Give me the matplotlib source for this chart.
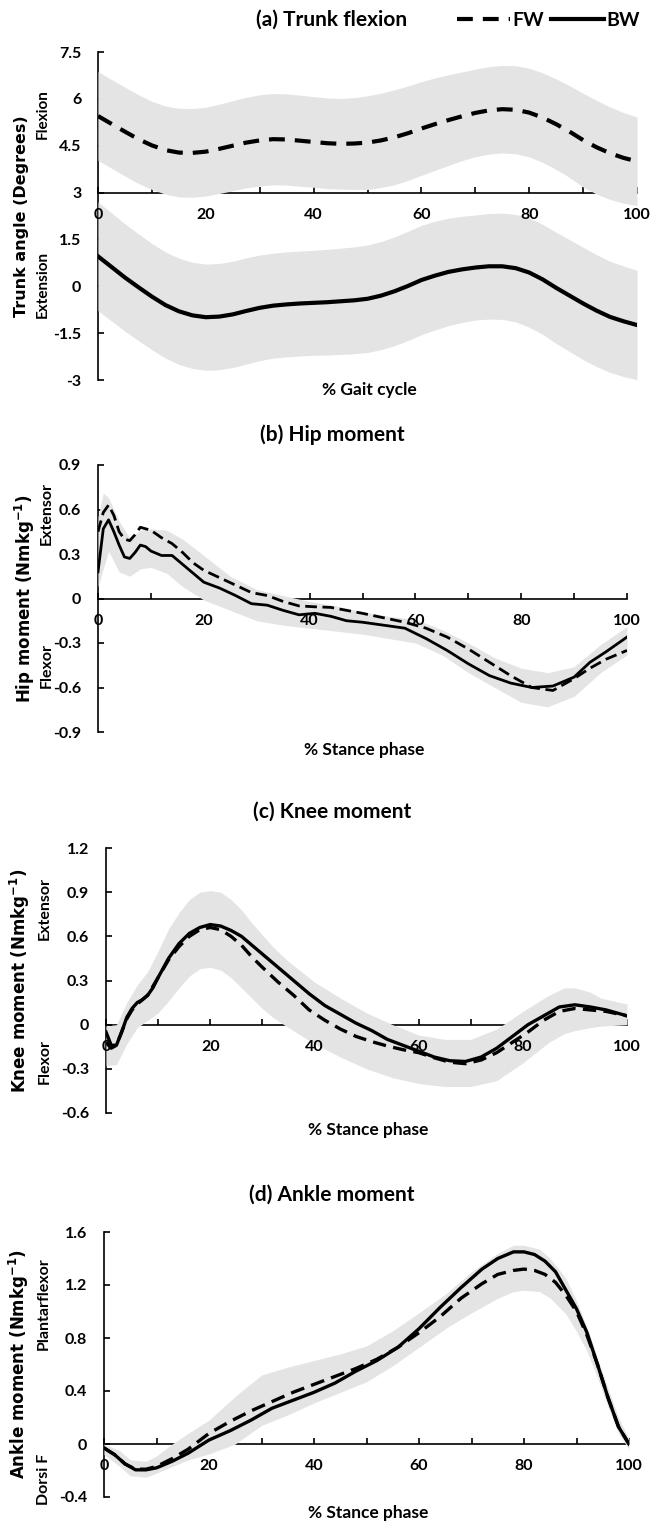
import matplotlib.pyplot as plt
from matplotlib.lines import Line2D

plt.rcParams['font.family'] = ['Lato', 'DejaVu Sans']
plt.rcParams['font.weight'] = 'bold'
plt.rcParams['axes.unicode_minus'] = False
plt.rcParams['mathtext.default'] = 'regular'

# ---------------- (a) Trunk flexion ----------------
trunk_x = [0, 2.5, 5, 7.5, 10, 12.5, 15, 17.5, 20, 22.5, 25, 27.5, 30, 32.5, 35, 37.5, 40, 42.5,
           45, 47.5, 50, 52.5, 55, 57.5, 60, 62.5, 65, 67.5, 70, 72.5, 75, 77.5, 80, 82.5, 85,
           87.5, 90, 92.5, 95, 97.5, 100]
trunk_fw = [5.45, 5.2, 4.95, 4.71, 4.51, 4.36, 4.28, 4.27, 4.31, 4.4, 4.5, 4.6, 4.67, 4.71, 4.7,
            4.66, 4.62, 4.58, 4.56, 4.57, 4.6, 4.67, 4.77, 4.9, 5.05, 5.19, 5.32, 5.44, 5.55,
            5.63, 5.67, 5.65, 5.56, 5.4, 5.19, 4.95, 4.68, 4.45, 4.26, 4.11, 4.0]
trunk_fw_sd = [1.42, 1.42, 1.42, 1.42, 1.41, 1.41, 1.42, 1.42, 1.42, 1.43, 1.44, 1.45, 1.46,
               1.46, 1.46, 1.46, 1.45, 1.45, 1.45, 1.47, 1.5, 1.51, 1.52, 1.51, 1.5, 1.48, 1.45,
               1.42, 1.4, 1.4, 1.4, 1.41, 1.42, 1.43, 1.45, 1.47, 1.5, 1.5, 1.48, 1.45, 1.42]
trunk_bw = [0.96, 0.62, 0.28, -0.03, -0.33, -0.6, -0.8, -0.93, -0.99, -0.97, -0.9, -0.79, -0.69,
            -0.62, -0.58, -0.55, -0.53, -0.51, -0.48, -0.45, -0.4, -0.3, -0.16, 0.01, 0.2, 0.34,
            0.46, 0.54, 0.6, 0.64, 0.64, 0.58, 0.44, 0.22, -0.05, -0.3, -0.55, -0.78, -0.98,
            -1.12, -1.24]
trunk_bw_sd = [1.74, 1.73, 1.72, 1.71, 1.7, 1.7, 1.7, 1.7, 1.7, 1.7, 1.7, 1.7, 1.69, 1.68, 1.68,
               1.68, 1.68, 1.69, 1.7, 1.71, 1.72, 1.73, 1.74, 1.75, 1.75, 1.74, 1.72, 1.7, 1.68,
               1.69, 1.7, 1.72, 1.75, 1.76, 1.78, 1.79, 1.8, 1.79, 1.78, 1.77, 1.75]

# ---------------- (b) Hip moment ----------------
hip_x = [0, 1, 2, 3, 4, 5, 6, 7, 8, 9, 10, 12, 14, 16, 18, 20, 23, 26, 29, 32, 35, 38, 41, 44,
         47, 50, 54, 58, 62, 66, 70, 74, 78, 82, 86, 90, 93, 96, 100]
hip_bw = [0.18, 0.47, 0.53, 0.45, 0.36, 0.28, 0.27, 0.31, 0.36, 0.35, 0.32, 0.29, 0.29, 0.23,
          0.17, 0.11, 0.07, 0.02, -0.035, -0.045, -0.08, -0.11, -0.1, -0.12, -0.15, -0.16,
          -0.18, -0.2, -0.27, -0.35, -0.44, -0.52, -0.57, -0.6, -0.59, -0.53, -0.43, -0.36, -0.26]
hip_fw = [0.45, 0.58, 0.63, 0.56, 0.45, 0.4, 0.39, 0.43, 0.48, 0.47, 0.46, 0.41, 0.37, 0.31,
          0.24, 0.19, 0.14, 0.09, 0.04, 0.02, -0.02, -0.05, -0.056, -0.06, -0.08, -0.1,
          -0.13, -0.16, -0.2, -0.26, -0.34, -0.43, -0.52, -0.6, -0.62, -0.54, -0.47, -0.41, -0.35]
hip_band_x = [0, 1, 2, 4, 6, 8, 10, 13, 16, 20, 25, 30, 35, 40, 45, 50, 55, 60, 65, 70, 75, 80,
              85, 90, 95, 100]
hip_band_hi = [0.55, 0.71, 0.68, 0.52, 0.41, 0.46, 0.47, 0.46, 0.4, 0.29, 0.15, 0.06, 0.02,
               -0.02, -0.05, -0.09, -0.12, -0.14, -0.21, -0.3, -0.4, -0.47, -0.5, -0.46, -0.31, -0.19]
hip_band_lo = [0.08, 0.2, 0.32, 0.18, 0.15, 0.2, 0.21, 0.17, 0.08, -0.01, -0.08, -0.15, -0.18,
               -0.2, -0.22, -0.24, -0.27, -0.3, -0.38, -0.5, -0.6, -0.7, -0.73, -0.66, -0.5, -0.38]

# ---------------- (c) Knee moment ----------------
knee_x = [0, 1, 2, 3, 4, 5, 6, 7, 8, 9, 10, 12, 14, 16, 18, 20, 22, 24, 26, 28, 30, 33, 36, 39,
          42, 45, 48, 51, 54, 57, 60, 63, 66, 69, 72, 75, 78, 81, 84, 87, 90, 93, 96, 100]
knee_bw = [-0.05, -0.14, -0.14, -0.05, 0.05, 0.11, 0.15, 0.17, 0.2, 0.25, 0.32, 0.45, 0.55,
           0.62, 0.66, 0.68, 0.67, 0.64, 0.6, 0.54, 0.48, 0.39, 0.3, 0.21, 0.13, 0.07, 0.01,
           -0.04, -0.1, -0.14, -0.18, -0.22, -0.245, -0.25, -0.22, -0.16, -0.08, 0.0, 0.06,
           0.12, 0.135, 0.12, 0.1, 0.06]
knee_fw = [-0.12, -0.16, -0.14, -0.05, 0.04, 0.1, 0.14, 0.17, 0.2, 0.26, 0.32, 0.44, 0.53, 0.6,
           0.645, 0.66, 0.645, 0.6, 0.54, 0.46, 0.39, 0.29, 0.2, 0.1, 0.03, -0.03, -0.08,
           -0.115, -0.145, -0.17, -0.19, -0.225, -0.255, -0.265, -0.24, -0.19, -0.12, -0.05,
           0.03, 0.09, 0.11, 0.1, 0.09, 0.06]
knee_band_x = [0, 2, 4, 6, 8, 10, 12, 14, 16, 18, 20, 22, 24, 26, 28, 30, 32, 35, 40, 45, 50,
               55, 60, 65, 70, 75, 80, 85, 88, 90, 93, 95, 100]
knee_band_hi = [-0.01, 0.0, 0.15, 0.27, 0.36, 0.5, 0.65, 0.76, 0.85, 0.9, 0.91, 0.9, 0.85, 0.78,
                0.69, 0.61, 0.53, 0.43, 0.29, 0.18, 0.08, 0.0, -0.07, -0.1, -0.1, -0.03, 0.09,
                0.2, 0.25, 0.25, 0.22, 0.18, 0.14]
knee_band_lo = [-0.28, -0.27, -0.13, -0.02, 0.03, 0.08, 0.16, 0.25, 0.33, 0.38, 0.39, 0.37,
                0.32, 0.25, 0.18, 0.11, 0.05, -0.02, -0.13, -0.22, -0.3, -0.36, -0.4, -0.42,
                -0.42, -0.38, -0.26, -0.12, -0.06, -0.04, -0.02, -0.01, 0.0]

# ---------------- (d) Ankle moment ----------------
ankle_x = [0, 2, 4, 6, 8, 10, 13, 16, 20, 24, 28, 32, 36, 40, 44, 48, 52, 56, 60, 64, 68, 72,
           75, 78, 80, 82, 84, 86, 88, 90, 92, 94, 96, 98, 100]
ankle_bw = [-0.03, -0.08, -0.15, -0.195, -0.195, -0.18, -0.13, -0.07, 0.03, 0.1, 0.18, 0.27,
            0.33, 0.39, 0.46, 0.55, 0.63, 0.73, 0.87, 1.03, 1.18, 1.32, 1.4, 1.45, 1.45, 1.43,
            1.38, 1.3, 1.16, 1.02, 0.84, 0.6, 0.35, 0.13, 0.0]
ankle_fw = [-0.03, -0.08, -0.15, -0.19, -0.19, -0.17, -0.11, -0.04, 0.08, 0.17, 0.25, 0.32,
            0.39, 0.45, 0.51, 0.57, 0.64, 0.73, 0.84, 0.96, 1.1, 1.21, 1.28, 1.31, 1.32, 1.31,
            1.28, 1.22, 1.12, 1.0, 0.82, 0.6, 0.35, 0.13, 0.0]
ankle_band_x = [0, 3, 5, 8, 10, 13, 16, 20, 25, 30, 35, 40, 45, 50, 55, 60, 65, 70, 75, 78, 80,
                83, 85, 88, 90, 92, 94, 96, 98, 100]
ankle_band_hi = [0.0, -0.05, -0.12, -0.13, -0.09, 0.0, 0.08, 0.18, 0.36, 0.52, 0.58, 0.63,
                 0.68, 0.74, 0.855, 0.99, 1.13, 1.3, 1.44, 1.5, 1.5, 1.47, 1.4, 1.25, 1.08, 0.88,
                 0.65, 0.42, 0.2, 0.04]
ankle_band_lo = [-0.08, -0.17, -0.24, -0.25, -0.22, -0.17, -0.12, -0.075, 0.0, 0.14, 0.22,
                 0.31, 0.39, 0.47, 0.59, 0.73, 0.87, 0.99, 1.1, 1.15, 1.16, 1.15, 1.1, 0.98, 0.85,
                 0.7, 0.5, 0.28, 0.08, -0.04]

x_ticks = list(range(0, 101, 10))

BAND = '#e4e4e4'
W, H = 653, 1524


def fx(px):
    return px / W


def fy(py):
    return 1 - py / H


fig = plt.figure(figsize=(W / 100, H / 100), dpi=100)


def make_axes(left, right, top, bottom, ylim, yticks, x_cross):
    ax = fig.add_axes([fx(left), fy(bottom), fx(right - left), fy(top) - fy(bottom)])
    ax.set_xlim(0, 100)
    ax.set_ylim(*ylim)
    for s in ['top', 'right']:
        ax.spines[s].set_visible(False)
    ax.spines['bottom'].set_position(('data', x_cross))
    ax.spines['bottom'].set_linewidth(1.2)
    ax.spines['left'].set_linewidth(1.2)
    ax.set_xticks(x_ticks)
    ax.set_yticks(yticks)
    ax.set_yticklabels([f'{v:g}' for v in yticks])
    ax.tick_params(axis='x', direction='in', length=4, width=1.2, labelbottom=False)
    ax.tick_params(axis='y', direction='in', length=4, width=1.2, pad=12, labelsize=11.5)
    # x tick labels drawn above the SD band
    for v in x_ticks:
        if v % 20 == 0:
            ax.annotate(f'{v}', xy=(v, x_cross), xytext=(0, -16), textcoords='offset points',
                        ha='center', va='center', fontsize=11.5, fontweight='bold',
                        annotation_clip=False, zorder=5)
    return ax


def band(ax, x, lo, hi):
    ax.fill_between(x, lo, hi, color=BAND, lw=0, zorder=2.6)


def lines(ax, x_fw, fw, x_bw, bw, lw, dash):
    ax.plot(x_fw, fw, color='black', lw=lw, dashes=dash, zorder=3,
            dash_joinstyle='round', dash_capstyle='butt')
    ax.plot(x_bw, bw, color='black', lw=lw, zorder=3.1, solid_joinstyle='round')


def texts(ax, title, title_y, xlabel, xlabel_x, xlabel_y, ylabel, ylabel_x, ylabel_size,
          side, side_size):
    fig.text(fx(332), fy(title_y), title, ha='center', va='center', fontsize=15,
             fontweight='bold')
    fig.text(fx(xlabel_x), fy(xlabel_y), xlabel, ha='center', va='center', fontsize=12.5,
             fontweight='bold')
    fig.text(fx(ylabel_x), 0.5 * (ax.get_position().y0 + ax.get_position().y1), ylabel,
             rotation=90, ha='center', va='center', fontsize=ylabel_size,
             fontweight='bold', family='DejaVu Sans')
    for label, xpx, val in side:
        ypos = ax.transData.transform((0, val))[1] / fig.bbox.height
        fig.text(fx(xpx), ypos, label, rotation=90, ha='center', va='center',
                 fontsize=side_size, fontweight='bold')


# (a)
ax_a = make_axes(98, 637, 52, 380, (-3, 7.5), [-3, -1.5, 0, 1.5, 3, 4.5, 6, 7.5], 3)
band(ax_a, trunk_x, [m - s for m, s in zip(trunk_fw, trunk_fw_sd)],
     [m + s for m, s in zip(trunk_fw, trunk_fw_sd)])
band(ax_a, trunk_x, [m - s for m, s in zip(trunk_bw, trunk_bw_sd)],
     [m + s for m, s in zip(trunk_bw, trunk_bw_sd)])
lines(ax_a, trunk_x, trunk_fw, trunk_x, trunk_bw, 3.0, (3.8, 2.4))
texts(ax_a, '(a) Trunk flexion', 20, '% Gait cycle', 369, 390, 'Trunk angle (Degrees)', 22, 11.5,
      [('Flexion', 43, 5.5), ('Extension', 43, 0.05)], 11)

# (b)
ax_b = make_axes(98, 627, 465, 732, (-0.9, 0.9), [-0.9, -0.6, -0.3, 0, 0.3, 0.6, 0.9], 0)
band(ax_b, hip_band_x, hip_band_lo, hip_band_hi)
lines(ax_b, hip_x, hip_fw, hip_x, hip_bw, 2.0, (4.2, 2.0))
texts(ax_b, '(b) Hip moment', 435, '% Stance phase', 364, 750, 'Hip moment (Nmkg$^{-1}$)', 25, 12,
      [('Extensor', 47, 0.57), ('Flexor', 47, -0.45)], 11.5)

# (c)
ax_c = make_axes(106, 627, 848, 1113, (-0.6, 1.2), [-0.6, -0.3, 0, 0.3, 0.6, 0.9, 1.2], 0)
band(ax_c, knee_band_x, knee_band_lo, knee_band_hi)
lines(ax_c, knee_x, knee_fw, knee_x, knee_bw, 2.4, (4.0, 2.2))
texts(ax_c, '(c) Knee moment', 812, '% Stance phase', 368, 1130, 'Knee moment (Nmkg$^{-1}$)', 20,
      12, [('Extensor', 45, 0.79), ('Flexor', 45, -0.25)], 11.5)

# (d)
ax_d = make_axes(104, 629, 1232, 1497, (-0.4, 1.6), [-0.4, 0, 0.4, 0.8, 1.2, 1.6], 0)
band(ax_d, ankle_band_x, ankle_band_lo, ankle_band_hi)
lines(ax_d, ankle_x, ankle_fw, ankle_x, ankle_bw, 2.4, (4.2, 2.2))
texts(ax_d, '(d) Ankle moment', 1195, '% Stance phase', 368, 1513, 'Ankle moment (Nmkg$^{-1}$)',
      19, 12, [('Plantarflexor', 44, 1.06), ('Dorsi F', 44, -0.27)], 11.5)

# legend
handles = [Line2D([], [], color='black', lw=3.0, dashes=(3.8, 2.4)),
           Line2D([], [], color='black', lw=3.0)]
fig.legend(handles, ['FW', 'BW'], ncol=2, loc='center right', bbox_to_anchor=(fx(640), fy(20)),
           frameon=False, fontsize=14, handlelength=2.7, handletextpad=0.15,
           columnspacing=0.35, borderpad=0, borderaxespad=0)

fig.savefig('out.png', dpi=100)
